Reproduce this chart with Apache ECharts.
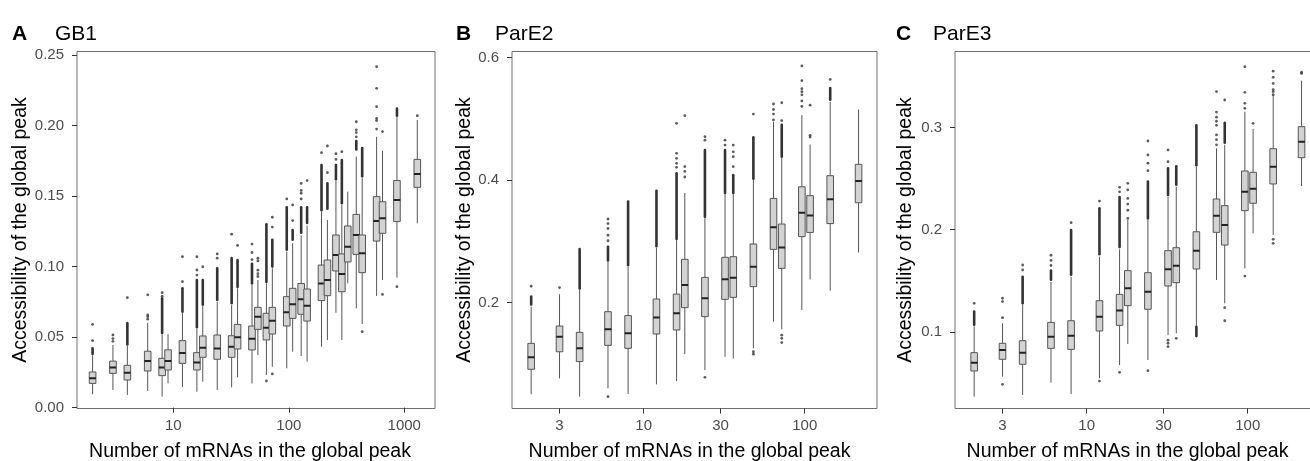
<!DOCTYPE html>
<html><head><meta charset="utf-8">
<script src="https://cdn.jsdelivr.net/npm/echarts@6/dist/echarts.min.js"></script>
<style>html,body{margin:0;padding:0;background:#fff}#c{width:1310px;height:461px}</style>
</head><body><div id="c"></div>
<script>
// ---------------- text ----------------
const panelLetters = ['A', 'B', 'C'];
const panelNames = ['GB1', 'ParE2', 'ParE3'];
const xTitle = 'Number of mRNAs in the global peak';
const yTitle = 'Accessibility of the global peak';

// ---------------- tick labels ----------------
const gb1XTicks = [10, 100, 1000];
const pareXTicks = [3, 10, 30, 100];
const gb1YTicks = [0, 0.05, 0.10, 0.15, 0.20, 0.25];
const pare2YTicks = [0.2, 0.4, 0.6];
const pare3YTicks = [0.1, 0.2, 0.3];

// ---------------- GB1 ----------------
const gb1N = [2, 3, 4, 6, 8, 9, 12, 16, 18, 24, 32, 36, 48, 54, 64, 72, 96, 108, 128, 144, 192, 216, 256, 288, 324, 384, 432, 576, 648, 864, 1296];
// [lower whisker, q1, median, q3, upper whisker]
const gb1Stats = [
  [0.0095, 0.0172, 0.0208, 0.0253, 0.037], [0.0125, 0.0243, 0.0284, 0.033, 0.0444],
  [0.009, 0.0196, 0.0248, 0.030, 0.044], [0.0118, 0.026, 0.0331, 0.040, 0.060],
  [0.0078, 0.0227, 0.0284, 0.035, 0.052], [0.0173, 0.0267, 0.0331, 0.041, 0.052],
  [0.0146, 0.0314, 0.0388, 0.0475, 0.067], [0.0113, 0.0267, 0.0321, 0.039, 0.056],
  [0.0184, 0.0357, 0.0424, 0.0508, 0.072], [0.0125, 0.0343, 0.042, 0.0515, 0.075],
  [0.0144, 0.0357, 0.0432, 0.051, 0.0728], [0.0215, 0.0416, 0.0499, 0.059, 0.0846],
  [0.0172, 0.0409, 0.0489, 0.0579, 0.087], [0.0373, 0.0555, 0.0645, 0.0711, 0.0905],
  [0.0232, 0.048, 0.0567, 0.0669, 0.088], [0.029, 0.0522, 0.0617, 0.0711, 0.0988],
  [0.0279, 0.0579, 0.0676, 0.0787, 0.1106], [0.0397, 0.0633, 0.0733, 0.0846, 0.1165],
  [0.0366, 0.0662, 0.0768, 0.088, 0.122], [0.0326, 0.0614, 0.0723, 0.0841, 0.129],
  [0.0432, 0.0759, 0.0881, 0.1011, 0.139], [0.048, 0.0794, 0.0905, 0.1047, 0.133],
  [0.0673, 0.0969, 0.1082, 0.1224, 0.161], [0.048, 0.0822, 0.0948, 0.109, 0.1437],
  [0.0881, 0.1033, 0.1141, 0.1288, 0.1531], [0.0704, 0.1087, 0.1224, 0.137, 0.178],
  [0.0593, 0.0957, 0.1094, 0.1224, 0.1626], [0.0792, 0.1181, 0.1323, 0.1496, 0.192],
  [0.0905, 0.1236, 0.1342, 0.146, 0.182], [0.0922, 0.1319, 0.1472, 0.161, 0.206],
  [0.1307, 0.1562, 0.1656, 0.176, 0.204]
];
// dense columns of outliers: [n, from, to]
const gb1OutlierRuns = [
  [2, 0.038, 0.042], [4, 0.0448, 0.060], [8, 0.053, 0.0775], [12, 0.068, 0.0846],
  [16, 0.057, 0.0905], [18, 0.073, 0.0905], [24, 0.0763, 0.0988], [32, 0.074, 0.106],
  [36, 0.0855, 0.1047], [48, 0.088, 0.102], [64, 0.089, 0.130], [72, 0.1, 0.119],
  [96, 0.112, 0.142], [108, 0.119, 0.126], [128, 0.124, 0.142], [144, 0.131, 0.142],
  [192, 0.140, 0.172], [216, 0.141, 0.159], [256, 0.162, 0.172], [288, 0.145, 0.1756],
  [384, 0.183, 0.189], [432, 0.164, 0.184], [864, 0.207, 0.212]
];
// single outliers: [n, value]
const gb1Outliers = [
  [2, 0.0475], [2, 0.059], [3, 0.047], [3, 0.049], [3, 0.0515], [4, 0.078],
  [6, 0.0627], [6, 0.0645], [6, 0.0657], [6, 0.080], [8, 0.079], [8, 0.0815],
  [12, 0.0893], [12, 0.107], [16, 0.094], [16, 0.0976], [16, 0.107], [18, 0.0999],
  [24, 0.106], [24, 0.109], [32, 0.123], [36, 0.115], [48, 0.105], [48, 0.110], [48, 0.116],
  [54, 0.093], [54, 0.095], [54, 0.0975], [54, 0.104], [54, 0.106], [64, 0.0189],
  [72, 0.128], [72, 0.135], [72, 0.0239], [96, 0.148], [108, 0.1326], [108, 0.1437],
  [128, 0.148], [128, 0.152], [128, 0.154], [128, 0.159], [144, 0.161], [192, 0.1808],
  [216, 0.1666], [216, 0.1855], [256, 0.176], [256, 0.180], [288, 0.1815],
  [384, 0.192], [384, 0.195], [384, 0.197], [384, 0.2027], [432, 0.0539],
  [576, 0.1975], [576, 0.2035], [576, 0.205], [576, 0.2134], [576, 0.2264], [576, 0.2417],
  [648, 0.1957], [648, 0.0803], [864, 0.0858], [1296, 0.207]
];

// ---------------- ParE2 ----------------
const pare2N = [2, 3, 4, 6, 8, 12, 16, 18, 24, 32, 36, 48, 64, 72, 96, 108, 144, 216];
const pare2Stats = [
  [0.0506, 0.0914, 0.111, 0.1337, 0.1934], [0.0767, 0.120, 0.1446, 0.162, 0.2137],
  [0.0468, 0.104, 0.1256, 0.1517, 0.221], [0.0604, 0.1305, 0.1566, 0.1854, 0.267],
  [0.0512, 0.1256, 0.150, 0.179, 0.2587], [0.0669, 0.149, 0.1757, 0.206, 0.290],
  [0.0723, 0.1555, 0.1827, 0.214, 0.302], [0.1163, 0.1919, 0.2289, 0.2707, 0.379],
  [0.090, 0.1773, 0.2071, 0.2413, 0.3376], [0.112, 0.2055, 0.2381, 0.274, 0.377],
  [0.109, 0.2087, 0.2408, 0.275, 0.377], [0.1256, 0.2262, 0.2588, 0.2957, 0.400],
  [0.169, 0.287, 0.323, 0.370, 0.495], [0.1566, 0.256, 0.290, 0.3283, 0.4364],
  [0.188, 0.3077, 0.3468, 0.389, 0.506], [0.238, 0.3146, 0.342, 0.3745, 0.458],
  [0.2196, 0.329, 0.3685, 0.4071, 0.5277], [0.282, 0.363, 0.3984, 0.4256, 0.515]
];
const pare2OutlierRuns = [
  [2, 0.197, 0.21], [4, 0.223, 0.2875], [6, 0.269, 0.2913], [8, 0.261, 0.365],
  [12, 0.292, 0.3826], [16, 0.304, 0.411], [24, 0.34, 0.449], [32, 0.379, 0.449],
  [36, 0.379, 0.408], [48, 0.402, 0.4696], [72, 0.438, 0.49], [144, 0.531, 0.55]
];
const pare2Outliers = [
  [2, 0.227], [3, 0.2246], [6, 0.301], [6, 0.310], [6, 0.321], [6, 0.329], [6, 0.3365], [6, 0.0468],
  [16, 0.4207], [16, 0.4272], [16, 0.4354], [16, 0.4435], [16, 0.4925],
  [18, 0.405], [18, 0.414], [18, 0.422], [18, 0.505], [24, 0.465], [24, 0.4707], [24, 0.0783],
  [32, 0.457], [32, 0.465], [36, 0.422], [36, 0.438], [36, 0.446], [36, 0.457],
  [48, 0.5076], [48, 0.12], [48, 0.116], [64, 0.498], [64, 0.5076], [64, 0.515], [64, 0.524],
  [72, 0.497], [72, 0.526], [72, 0.147], [72, 0.142], [72, 0.135],
  [96, 0.52], [96, 0.529], [96, 0.539], [96, 0.544], [96, 0.549], [96, 0.562], [96, 0.586],
  [108, 0.47], [108, 0.473], [108, 0.522], [144, 0.564]
];

// ---------------- ParE3 ----------------
const pare3N = [2, 3, 4, 6, 8, 12, 16, 18, 24, 32, 36, 48, 64, 72, 96, 108, 144, 216];
const pare3Stats = [
  [0.0368, 0.0619, 0.070, 0.0798, 0.1055], [0.0563, 0.0733, 0.0824, 0.0889, 0.1085],
  [0.0384, 0.0684, 0.0798, 0.0915, 0.1264], [0.0505, 0.084, 0.0954, 0.1094, 0.149],
  [0.0394, 0.083, 0.0964, 0.111, 0.154], [0.0547, 0.101, 0.115, 0.1306, 0.1736],
  [0.0677, 0.1065, 0.1209, 0.1368, 0.1808], [0.0883, 0.1257, 0.1427, 0.16, 0.2095],
  [0.0726, 0.1222, 0.1394, 0.158, 0.2095], [0.097, 0.145, 0.1613, 0.1795, 0.2323],
  [0.0987, 0.1482, 0.1648, 0.1824, 0.242], [0.1059, 0.1616, 0.1795, 0.198, 0.2616],
  [0.1508, 0.1974, 0.2137, 0.23, 0.2795], [0.128, 0.185, 0.2046, 0.2235, 0.283],
  [0.1622, 0.2186, 0.2372, 0.2574, 0.3154], [0.1964, 0.2258, 0.2401, 0.2561, 0.2984],
  [0.1948, 0.2447, 0.2616, 0.2792, 0.3317], [0.2427, 0.2704, 0.286, 0.3007, 0.3457]
];
const pare3OutlierRuns = [
  [2, 0.107, 0.12], [4, 0.128, 0.154], [6, 0.151, 0.16], [8, 0.156, 0.1997],
  [12, 0.176, 0.221], [16, 0.183, 0.232], [24, 0.211, 0.247], [32, 0.234, 0.26],
  [36, 0.244, 0.262], [48, 0.263, 0.302], [48, 0.096, 0.105], [72, 0.285, 0.3046]
];
const pare3Outliers = [
  [2, 0.128], [3, 0.114], [3, 0.1297], [3, 0.133], [3, 0.0488], [4, 0.1606], [4, 0.1655],
  [6, 0.165], [6, 0.170], [6, 0.175], [8, 0.2069], [12, 0.228], [12, 0.052],
  [16, 0.237], [16, 0.2414], [16, 0.0606], [18, 0.211], [18, 0.219], [18, 0.225], [18, 0.2306], [18, 0.239], [18, 0.2453],
  [24, 0.2577], [24, 0.265], [24, 0.273], [24, 0.2867], [24, 0.0622],
  [32, 0.2665], [32, 0.278], [32, 0.092], [32, 0.089], [32, 0.0857], [36, 0.0938],
  [64, 0.283], [64, 0.288], [64, 0.2926], [64, 0.302], [64, 0.306], [64, 0.310], [64, 0.315], [64, 0.335],
  [72, 0.3268], [72, 0.1238], [72, 0.111],
  [96, 0.3186], [96, 0.3235], [96, 0.3343], [96, 0.3594], [96, 0.1547], [108, 0.304],
  [144, 0.332], [144, 0.335], [144, 0.337], [144, 0.343], [144, 0.349], [144, 0.355], [144, 0.1906], [144, 0.1867],
  [216, 0.3528], [216, 0.354]
];

// ---------------- build ----------------
const FONT = '"Liberation Sans", Arial, Helvetica, sans-serif';
const panels = [
  { N: gb1N, stats: gb1Stats, runs: gb1OutlierRuns, pts: gb1Outliers, xTicks: gb1XTicks, yTicks: gb1YTicks, yDec: 2,
    grid: { left: 77, top: 51.5, width: 358, height: 357 }, xMin: 0.166, xMax: 3.266, yMin: -0.0006, yMax: 0.2525, yGap: 46, xShift: 12 },
  { N: pare2N, stats: pare2Stats, runs: pare2OutlierRuns, pts: pare2Outliers, xTicks: pareXTicks, yTicks: pare2YTicks, yDec: 1,
    grid: { left: 512, top: 51.5, width: 365, height: 357 }, xMin: 0.182, xMax: 2.449, yMin: 0.0275, yMax: 0.6096, yGap: 36, xShift: 10 },
  { N: pare3N, stats: pare3Stats, runs: pare3OutlierRuns, pts: pare3Outliers, xTicks: pareXTicks, yTicks: pare3YTicks, yDec: 1,
    grid: { left: 955, top: 51.5, width: 365, height: 357 }, xMin: 0.182, xMax: 2.449, yMin: 0.0252, yMax: 0.3742, yGap: 39, xShift: 20 }
];
const lg = v => Math.log10(v);

const grids = [], xAxes = [], yAxes = [], series = [], graphics = [];
panels.forEach((p, i) => {
  grids.push(Object.assign({ show: true, borderColor: '#6e6e6e', borderWidth: 1, backgroundColor: 'transparent',
    containLabel: false, outerBoundsMode: 'none' }, p.grid));
  const tickVals = p.xTicks.map(lg);
  xAxes.push({
    type: 'value', gridIndex: i, min: p.xMin, max: p.xMax,
    axisLine: { show: false }, splitLine: { show: false },
    axisTick: { show: true, customValues: tickVals, length: 5, lineStyle: { color: '#333', width: 1 } },
    axisLabel: { customValues: tickVals, margin: 10, color: '#4d4d4d', fontSize: 15, fontFamily: FONT,
      formatter: v => String(Math.round(Math.pow(10, v))) },
    name: xTitle, nameLocation: 'middle', nameGap: 33,
    nameTextStyle: { color: '#000', fontSize: 19.5, fontFamily: FONT, padding: [0, p.xShift, 0, 0] }
  });
  yAxes.push({
    type: 'value', gridIndex: i, min: p.yMin, max: p.yMax,
    axisLine: { show: false }, splitLine: { show: false },
    axisTick: { show: true, customValues: p.yTicks, length: 5, lineStyle: { color: '#333', width: 1 } },
    axisLabel: { customValues: p.yTicks, margin: 13, color: '#4d4d4d', fontSize: 15, fontFamily: FONT,
      formatter: v => v.toFixed(p.yDec) },
    name: yTitle, nameLocation: 'middle', nameGap: p.yGap, nameRotate: 90,
    nameTextStyle: { color: '#000', fontSize: 19.5, fontFamily: FONT }
  });
  // outlier runs
  series.push({
    type: 'custom', xAxisIndex: i, yAxisIndex: i, clip: true, silent: true,
    data: p.runs.map(r => [lg(r[0]), r[1], r[2]]),
    encode: { x: 0, y: [1, 2] },
    renderItem: (params, api) => {
      const a = api.coord([api.value(0), api.value(1)]);
      const b = api.coord([api.value(0), api.value(2)]);
      return { type: 'line', shape: { x1: a[0], y1: a[1], x2: b[0], y2: b[1] },
        style: { stroke: '#333', lineWidth: 2.6, lineCap: 'round' } };
    }
  });
  // boxes
  series.push({
    type: 'custom', xAxisIndex: i, yAxisIndex: i, clip: true, silent: true,
    data: p.N.map((n, k) => [lg(n)].concat(p.stats[k])),
    encode: { x: 0, y: [1, 2, 3, 4, 5] },
    renderItem: (params, api) => {
      const x = api.value(0);
      const lo = api.coord([x, api.value(1)]);
      const q1 = api.coord([x, api.value(2)]);
      const md = api.coord([x, api.value(3)]);
      const q3 = api.coord([x, api.value(4)]);
      const hi = api.coord([x, api.value(5)]);
      const cx = lo[0], hw = 3.3;
      return { type: 'group', children: [
        { type: 'line', shape: { x1: cx, y1: lo[1], x2: cx, y2: q1[1] }, style: { stroke: '#555', lineWidth: 1 } },
        { type: 'line', shape: { x1: cx, y1: q3[1], x2: cx, y2: hi[1] }, style: { stroke: '#555', lineWidth: 1 } },
        { type: 'rect', shape: { x: cx - hw, y: q3[1], width: hw * 2, height: q1[1] - q3[1] },
          style: { fill: '#d3d3d3', stroke: '#555', lineWidth: 1 } },
        { type: 'line', shape: { x1: cx - hw, y1: md[1], x2: cx + hw, y2: md[1] }, style: { stroke: '#222', lineWidth: 2 } }
      ] };
    }
  });
  // single outliers
  series.push({
    type: 'scatter', xAxisIndex: i, yAxisIndex: i, silent: true, clip: true,
    symbol: 'circle', symbolSize: 2.8, itemStyle: { color: '#333' },
    data: p.pts.map(d => [lg(d[0]), d[1]])
  });
  // panel headings
  graphics.push({ type: 'text', left: [12, 456, 896][i], top: 24,
    style: { text: panelLetters[i], fontSize: 21, fontWeight: 'bold', fontFamily: FONT, fill: '#000' } });
  graphics.push({ type: 'text', left: [55, 495, 933][i], top: 24,
    style: { text: panelNames[i], fontSize: 21, fontFamily: FONT, fill: '#000' } });
});

const chart = echarts.init(document.getElementById('c'), null, { renderer: 'canvas' });
chart.setOption({
  animation: false,
  backgroundColor: '#fff',
  grid: grids, xAxis: xAxes, yAxis: yAxes, series: series, graphic: graphics
});
</script></body></html>
